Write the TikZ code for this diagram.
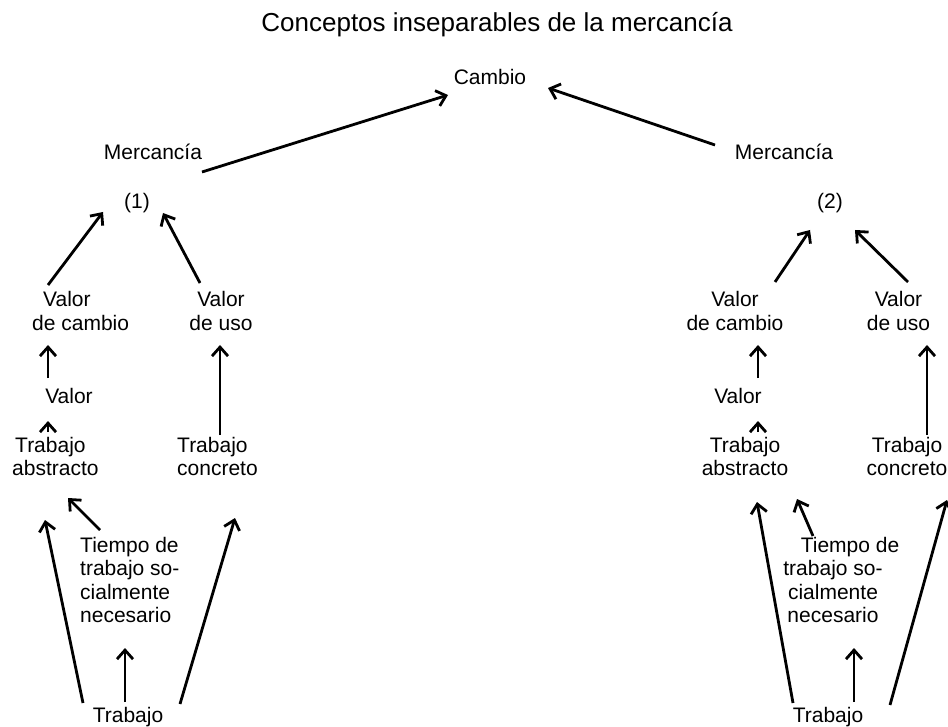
\documentclass[tikz,border=0pt]{standalone}
\usepackage{fontspec}
\setmainfont{Liberation Sans}
\usetikzlibrary{arrows.meta}
\newcommand\mlc[1]{\begin{tabular}[t]{@{}c@{}}#1\end{tabular}}
\newcommand\mll[1]{\begin{tabular}[t]{@{}l@{}}#1\end{tabular}}
\begin{document}
\begin{tikzpicture}[x=1pt,y=-1pt,
  lbl/.style={inner sep=0pt, anchor=base, font=\fontsize{21}{23.5}\selectfont},
  lblw/.style={lbl, anchor=base west},
  ttl/.style={inner sep=0pt, anchor=base, font=\fontsize{26}{30}\selectfont},
  arr/.style={line width=2.8pt, -{Straight Barb[length=9pt,width=16pt]}}]
\useasboundingbox[fill=white] (0,0) rectangle (948,727);
% texts
\node[ttl] (title) at (497,32) {Conceptos inseparables de la mercancía};
\node[lbl] (cambio) at (490,85) {Cambio};
\node[lbl] (mercL) at (153,160) {Mercancía};
\node[lbl] (mercR) at (784,160) {Mercancía};
\node[lbl] (n1) at (137,209) {(1)};
\node[lbl] (n2) at (830,209) {(2)};
% left column
\node[lblw] (vdcL) at (32,307) {\mll{\hspace*{11pt}Valor\\de cambio}};
\node[lbl] (vduL) at (221,307) {\mlc{Valor\\de uso}};
\node[lbl] (valL) at (69,403) {Valor};
\node[lblw] (tabsL) at (12,452) {\mll{\hspace*{3pt}Trabajo\\abstracto}};
\node[lblw] (tconL) at (177,452) {\mll{Trabajo\\concreto}};
\node[lblw] (tiempoL) at (80,552) {\mll{Tiempo de\\trabajo so-\\cialmente\\necesario}};
\node[lbl] (trabL) at (128,722) {Trabajo};
% right column
\node[lbl] (vdcR) at (735,307) {\mlc{Valor\\de cambio}};
\node[lbl] (vduR) at (898.5,307) {\mlc{Valor\\de uso}};
\node[lbl] (valR) at (738,403) {Valor};
\node[lbl] (tabsR) at (745,452) {\mlc{Trabajo\\abstracto}};
\node[lbl] (tconR) at (907,452) {\mlc{Trabajo\\concreto}};
\node[lbl] (tiempoR) at (833,552) {\mlc{\hspace*{34pt}Tiempo de\\trabajo so-\\cialmente\\necesario}};
\node[lbl] (trabR) at (828,722) {Trabajo};
% connectors
\draw[arr] ([shift={(49,12)}]mercL.base) -- ([shift={(-42,10)}]cambio.base);
\draw[arr] ([shift={(-69,-15)}]mercR.base) -- ([shift={(58,3)}]cambio.base);
\draw[arr] ([shift={(16,-22)}]vdcL.base west) -- ([shift={(-34,3)}]n1.base);
\draw[arr] ([shift={(-21,-24)}]vduL.base) -- ([shift={(26,4)}]n1.base);
\draw[arr] ([shift={(40,-25)}]vdcR.base) -- ([shift={(-20,21)}]n2.base);
\draw[arr] ([shift={(9.5,-25)}]vduR.base) -- ([shift={(25,21)}]n2.base);
\draw[arr] ([shift={(-21,-25)}]valL.base) -- ([shift={(16,38)}]vdcL.base west);
\draw[arr] ([shift={(36,-20)}]tabsL.base west) -- ([shift={(-21,18)}]valL.base);
\draw[arr] ([shift={(43,-17)}]tconL.base west) -- ([shift={(-1,38)}]vduL.base);
\draw[arr] ([shift={(-45,-19)}]trabL.base) -- ([shift={(33,68)}]tabsL.base west);
\draw[arr] ([shift={(20,-22)}]tiempoL.base west) -- ([shift={(56,46)}]tabsL.base west);
\draw[arr] ([shift={(52,-18)}]trabL.base) -- ([shift={(58,66)}]tconL.base west);
\draw[arr] ([shift={(-3,-20)}]trabL.base) -- ([shift={(45,96)}]tiempoL.base west);
\draw[arr] ([shift={(20,-25)}]valR.base) -- ([shift={(23,38)}]vdcR.base);
\draw[arr] ([shift={(13,-20)}]tabsR.base) -- ([shift={(20,18)}]valR.base);
\draw[arr] ([shift={(20,-17)}]tconR.base) -- ([shift={(28.5,38)}]vduR.base);
\draw[arr] ([shift={(-35,-19)}]trabR.base) -- ([shift={(12,50)}]tabsR.base);
\draw[arr] ([shift={(-20,-16)}]tiempoR.base) -- ([shift={(52,47)}]tabsR.base);
\draw[arr] ([shift={(62,-17)}]trabR.base) -- ([shift={(40,48)}]tconR.base);
\draw[arr] ([shift={(26,-20)}]trabR.base) -- ([shift={(21,96)}]tiempoR.base);
\end{tikzpicture}
\end{document}
